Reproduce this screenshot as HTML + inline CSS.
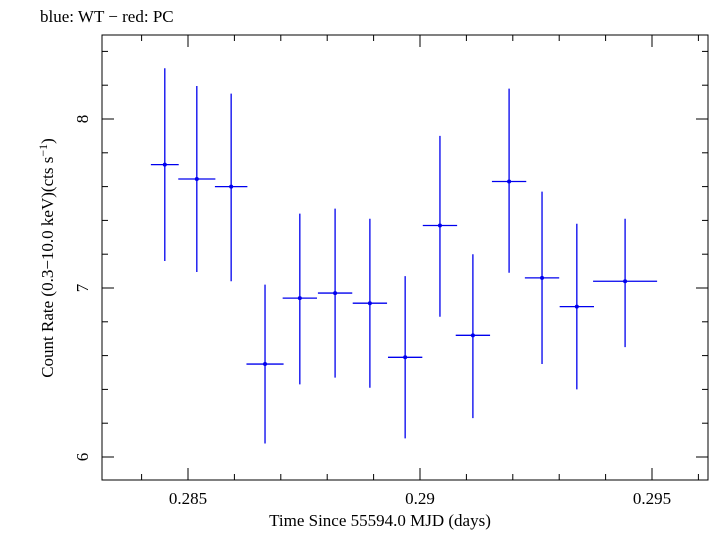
<!DOCTYPE html>
<html><head><meta charset="utf-8"><style>
body{margin:0;background:#fff;font-family:"Liberation Serif",serif;}
</style></head><body>
<svg width="709" height="532" xmlns="http://www.w3.org/2000/svg">
<text x="40" y="22" font-size="17" font-family="Liberation Serif, serif">blue: WT − red: PC</text>
<rect x="102" y="35" width="606" height="445" fill="none" stroke="#000" stroke-width="1"/>
<g id="ticks"></g>
<g id="marks"></g>
<text x="380" y="526" font-size="17" text-anchor="middle" font-family="Liberation Serif, serif">Time Since 55594.0 MJD (days)</text>
<text transform="translate(53,258) rotate(-90)" font-size="17" text-anchor="middle" font-family="Liberation Serif, serif">Count Rate (0.3−10.0 keV)(cts s<tspan dy="-6" font-size="12">−1</tspan><tspan dy="6">)</tspan></text>
</svg>
<script>
const times=[0.28450,0.28519,0.28593,0.28666,0.28741,0.28817,0.28892,0.28968,0.29043,0.29114,0.29192,0.29263,0.29338,0.29442];
const rates=[7.73,7.645,7.60,6.55,6.94,6.97,6.91,6.59,7.37,6.72,7.63,7.06,6.89,7.04];
const errUp=[0.57,0.55,0.55,0.47,0.50,0.50,0.50,0.48,0.53,0.48,0.55,0.51,0.49,0.37];
const errDown=[0.57,0.55,0.56,0.47,0.51,0.50,0.50,0.48,0.54,0.49,0.54,0.51,0.49,0.39];
const timeErr=[0.00030,0.00040,0.00035,0.00040,0.00037,0.00037,0.00037,0.00037,0.00037,0.00037,0.00037,0.00037,0.00037,0.00069];
const xTicks=[0.285,0.29,0.295];
const xTickLabels=["0.285","0.29","0.295"];
const yTicks=[6,7,8];
const yTickLabels=["6","7","8"];
const NS="http://www.w3.org/2000/svg";
const L=102,R=708,T=35,B=480;
function xs(t){return 188+(t-0.285)*46400;}
function ys(v){return 288-(v-7)*169;}
function el(tag,at,parent){const e=document.createElementNS(NS,tag);for(const k in at)e.setAttribute(k,at[k]);parent.appendChild(e);return e;}
const tg=document.getElementById('ticks');
for(let m=0.283;m<=0.2965;m+=0.001){const x=xs(m);if(x<=L||x>=R)continue;
 const major=xTicks.some(t=>Math.abs(t-m)<1e-6);const len=major?12:6;
 const a=el('line',{x1:x,x2:x,y1:B,y2:B-len,stroke:'#000'},tg);
 
 
 const b=el('line',{x1:x,x2:x,y1:T,y2:T+len,stroke:'#000'},tg);
 
 }
xTicks.forEach((t,i)=>{const tx=el('text',{x:xs(t),y:504,'font-size':17,'text-anchor':'middle'},tg);tx.textContent=xTickLabels[i];
 
 });
for(let v=5.8;v<=8.6;v+=0.2){const y=ys(v);if(y<=T||y>=B)continue;
 const major=yTicks.some(t=>Math.abs(t-v)<1e-6);const len=major?12:6;
 const a=el('line',{x1:L,x2:L+len,y1:y,y2:y,stroke:'#000'},tg);
 
 
 const b=el('line',{x1:R,x2:R-len,y1:y,y2:y,stroke:'#000'},tg);
 
 }
yTicks.forEach((v,i)=>{const tx=el('text',{x:0,y:0,'font-size':17,'text-anchor':'middle',transform:`translate(${88},${ys(v)}) rotate(-90)`},tg);tx.textContent=yTickLabels[i];
 
 });
const mg=document.getElementById('marks');
times.forEach((t,i)=>{const g=el('g',{},mg);
 
 
 const x=xs(t),y=ys(rates[i]);
 el('line',{x1:x,x2:x,y1:ys(rates[i]+errUp[i]),y2:ys(rates[i]-errDown[i]),stroke:'#0000ee','stroke-width':1.3},g);
 el('line',{x1:xs(t-timeErr[i]),x2:xs(t+timeErr[i]),y1:y,y2:y,stroke:'#0000ee','stroke-width':1.3},g);
 el('circle',{cx:x,cy:y,r:2,fill:'#0000ee'},g);});
</script>
</body></html>
